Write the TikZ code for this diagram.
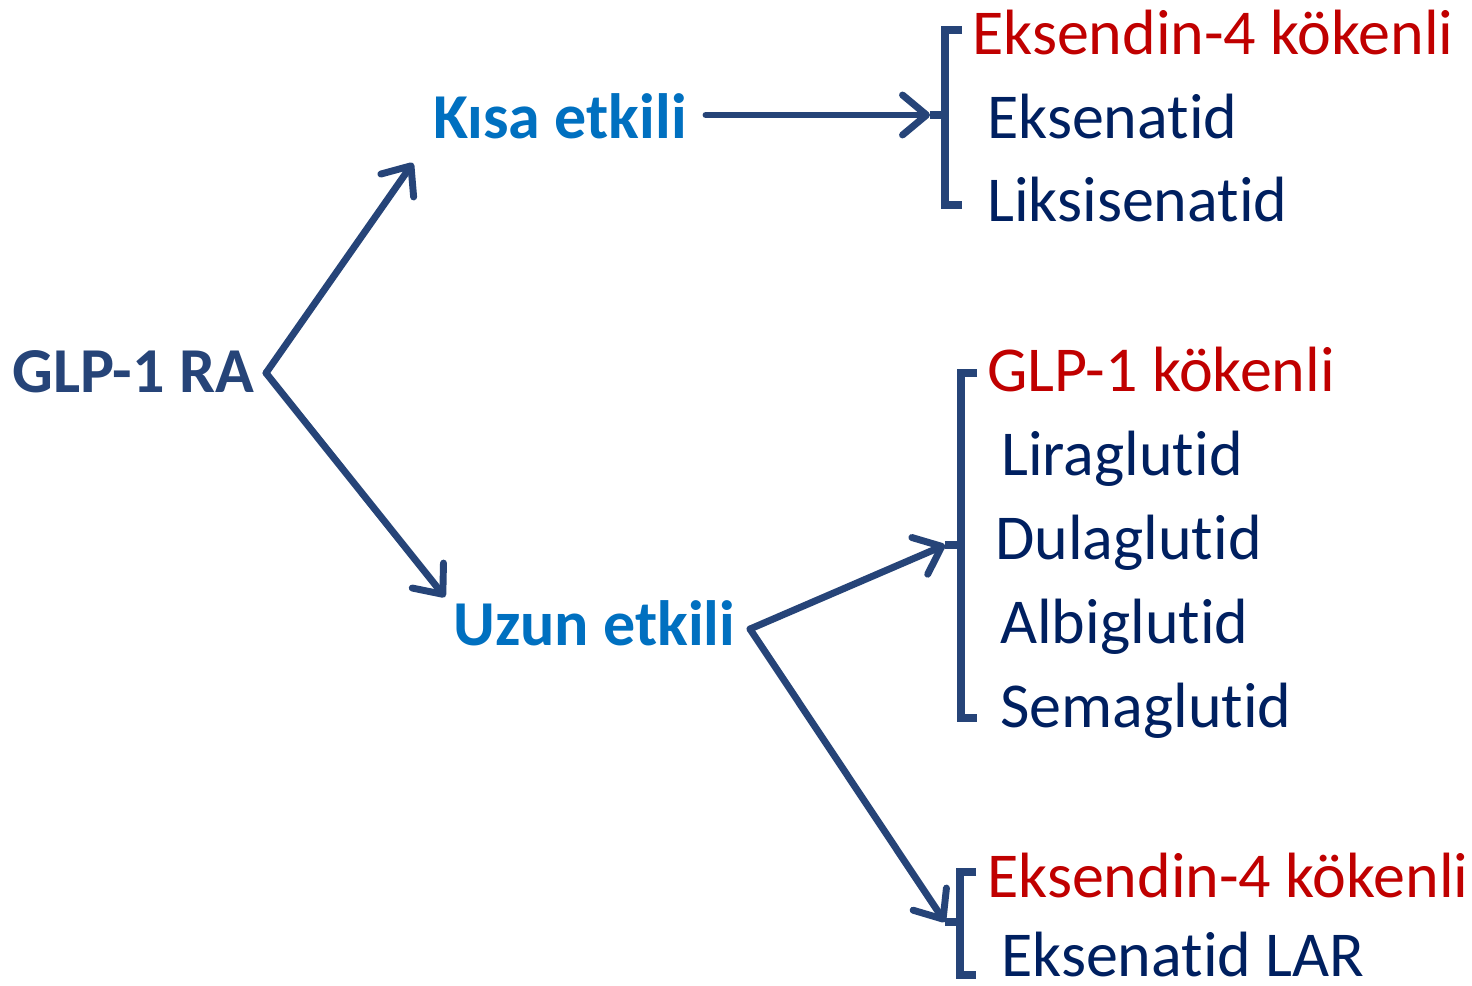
\documentclass[tikz,border=0pt]{standalone}
\usepackage{fontspec}
\setmainfont{Carlito}[Ligatures=NoCommon]
\usetikzlibrary{arrows.meta}
\definecolor{arrowblue}{RGB}{38,68,120}
\definecolor{itemnavy}{RGB}{0,32,96}
\definecolor{originred}{RGB}{192,0,0}
\definecolor{groupblue}{RGB}{0,112,192}

\begin{document}
\begin{tikzpicture}[x=0.75pt,y=-0.75pt]
        \tikzstyle{every node}=[inner sep=0pt, anchor=base west, font=\fontsize{48}{58}\selectfont]
        \tikzstyle{head}=[font=\fontsize{48}{58}\selectfont\bfseries]
        \tikzstyle{item}=[text=itemnavy]
        \tikzstyle{origin}=[text=originred]
        \tikzstyle{arr}=[draw=arrowblue, line width=5.2pt, line cap=round,
            -{Straight Barb[length=18pt, width=30pt, line width=5.2pt, round]}]
        \tikzstyle{bracket}=[draw=arrowblue, line width=5.5pt]

        \useasboundingbox[fill=white] (0,0) rectangle (1472,986);

        \node (glp)  [head, text=arrowblue] at (12,392)  {GLP-1 RA};
        \node (kisa) [head, text=groupblue] at (433,138) {Kısa etkili};
        \node (uzun) [head, text=groupblue] at (453,645) {Uzun etkili};

        \node (eks4a) [origin] at (972,54)   {Eksendin-4 kökenli};
        \node (eksen) [item]   at (987,138)  {Eksenatid};
        \node (liksi) [item]   at (987,221)  {Liksisenatid};

        \node (glpk)  [origin] at (987,391)  {GLP-1 kökenli};
        \node (lira)  [item]   at (1001,475) {Liraglutid};
        \node (dula)  [item]   at (995,559)  {Dulaglutid};
        \node (albi)  [item]   at (1000,643) {Albiglutid};
        \node (sema)  [item]   at (1000,727) {Semaglutid};

        \node (eks4b) [origin] at (987,897)  {Eksendin-4 kökenli};
        \node (lar)   [item]   at (1001,976) {Eksenatid LAR};

        % brackets
        \draw[bracket] (962,30) -- (945,30) -- (945,205) -- (962,205);
        \draw[bracket] (945,115) -- (930,115);
        \coordinate (b1) at (930,115);
        \draw[bracket] (977,373) -- (961,373) -- (961,718) -- (977,718);
        \draw[bracket] (961,545) -- (945,545);
        \coordinate (b2) at (945,545);
        \draw[bracket] (976,872) -- (960,872) -- (960,975) -- (976,975);
        \draw[bracket] (960,922) -- (945,922);
        \coordinate (b3) at (945,922);

        % split points
        \coordinate (root)  at (266,373);
        \coordinate (kin)   at (413,163);
        \coordinate (uin)   at (445,597);
        \coordinate (kout)  at (706,115);
        \coordinate (uout)  at (750,629);

        \draw[arr] (root) -- (kin);
        \draw[arr] (root) -- (uin);
        \draw[arr] (kout) -- (b1);
        \draw[arr] (uout) -- (b2);
        \draw[arr] (uout) -- (b3);
\end{tikzpicture}
\end{document}
